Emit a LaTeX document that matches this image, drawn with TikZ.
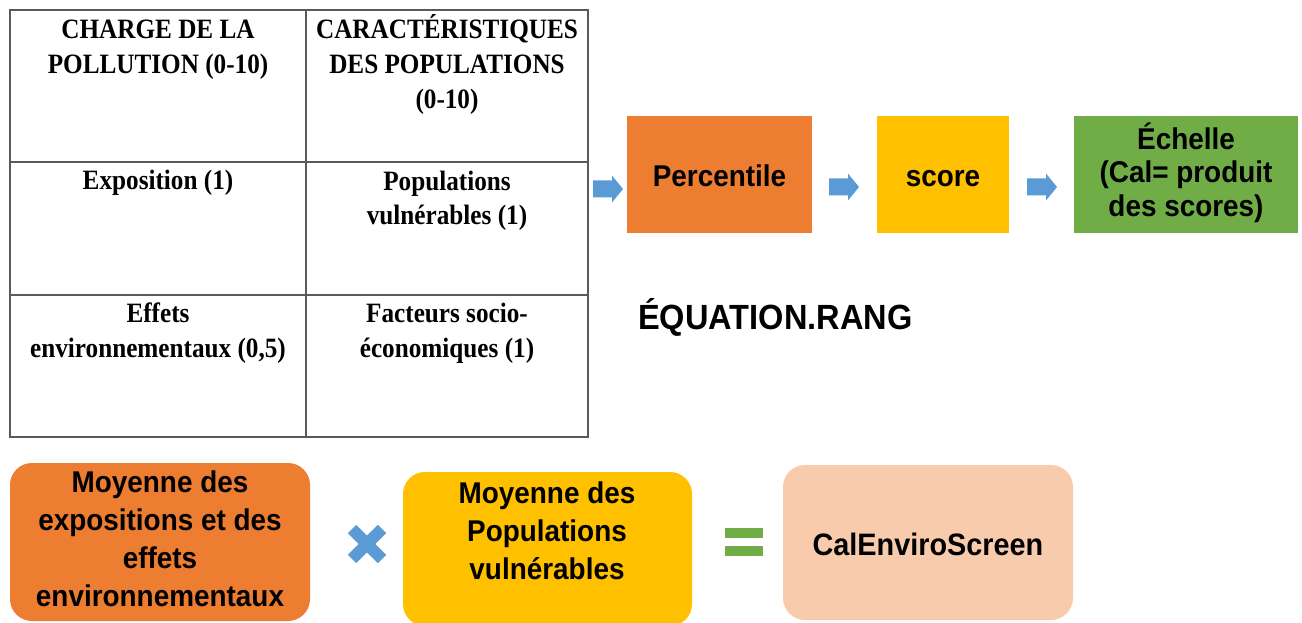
\documentclass[tikz,border=0pt]{standalone}
\usepackage{fontspec}
\usetikzlibrary{calc}
\newfontfamily\arfont{Liberation Sans}[FakeStretch=0.93]
\newfontfamily\tmfont{Liberation Serif}[FakeStretch=0.9]
\definecolor{cOrange}{HTML}{ED7D31}
\definecolor{cYellow}{HTML}{FFC000}
\definecolor{cGreen}{HTML}{70AD47}
\definecolor{cBlue}{HTML}{5B9BD5}
\definecolor{cPeach}{HTML}{F8CBAD}
\definecolor{cGrid}{HTML}{5A5A5A}
\begin{document}
\begin{tikzpicture}[x=1pt,y=-1pt,
  grid/.style={draw=cGrid, line width=1.3pt},
  cell/.style={font=\tmfont\bfseries\fontsize{28}{35}\selectfont, align=center, inner sep=0pt, text=black},
  sq/.style={font=\arfont\bfseries\fontsize{30}{33.5}\selectfont, inner sep=0pt, align=center, text=black},
  rbox/.style={rounded corners=22pt, inner sep=0pt, align=center, text=black},
  btxt/.style={font=\arfont\bfseries\fontsize{30}{38}\selectfont},
  blockarrow/.pic={\fill[cBlue] (-15,-8.5) -- (4,-8.5) -- (4,-13.5) -- (15,0) -- (4,13.5) -- (4,8.5) -- (-15,8.5) -- cycle;}
]
\useasboundingbox (0,0) rectangle (1302,623);

% table
\draw[grid] (10,10) rectangle (588,437);
\draw[grid] (306,10) -- (306,437);
\draw[grid] (10,162) -- (588,162);
\draw[grid] (10,295) -- (588,295);

\node[cell] (h1) at (158,49.5) {\strut CHARGE DE LA\\POLLUTION (0-10)\strut};
\node[cell] (h2) at (447,67) {\strut CARACTÉRISTIQUES\\DES POPULATIONS\\(0-10)\strut};
\node[cell] (r1) at (158,183) {\strut Exposition (1)\strut};
\node[cell] (r2) at (447,200.5) {\strut Populations\\vulnérables (1)\strut};
\node[cell] (r3) at (158,333) {\strut Effets\\environnementaux (0,5)\strut};
\node[cell] (r4) at (447,333) {\strut Facteurs socio-\\économiques (1)\strut};

% top flow
\node[sq, fill=cOrange, minimum width=185pt, minimum height=117pt, text height=23pt, text depth=0pt] (perc) at (719.5,174.5) {Percentile};
\node[sq, fill=cYellow, minimum width=132pt, minimum height=117pt, text height=23pt, text depth=0pt] (score) at (943,174.5) {score};
\node[sq, fill=cGreen, minimum width=224pt, minimum height=117pt] (ech) at (1186,174.5) {\strut Échelle\\(Cal= produit\\des scores)\strut};

\coordinate (a1) at (608,189);
\coordinate (a2) at (844,187);
\coordinate (a3) at (1042,187);
\pic at (a1) {blockarrow};
\pic at (a2) {blockarrow};
\pic at (a3) {blockarrow};

\node[anchor=base west, inner sep=0pt, font=\arfont\bfseries\fontsize{35}{40}\selectfont] (eq) at (638,329) {ÉQUATION.RANG};

% bottom equation
\node[rbox, btxt, fill=cOrange, minimum width=300pt, minimum height=158pt] (moyA) at (160,542) {\strut Moyenne des\\expositions et des\\effets\\environnementaux\strut};
\node[rbox, fill=cYellow, minimum width=289pt, minimum height=154pt] (moyB) at (547.5,549) {};
\node[btxt, align=center, inner sep=0pt] (moyBt) at (547,533.8) {\strut Moyenne des\\Populations\\vulnérables\strut};
\node[rbox, fill=cPeach, minimum width=290pt, minimum height=155pt, font=\arfont\bfseries\fontsize{31}{36}\selectfont, text height=25pt, text depth=0pt] (cal) at (928,542.5) {CalEnviroScreen};

\coordinate (xs) at (367,544);
\draw[cBlue, line width=12pt] ($(xs)+(-15,-15)$) -- ($(xs)+(15,15)$);
\draw[cBlue, line width=12pt] ($(xs)+(-15,15)$) -- ($(xs)+(15,-15)$);

\coordinate (eqs) at (744,542);
\fill[cGreen] ($(eqs)+(-19,-14)$) rectangle ($(eqs)+(19,-4)$);
\fill[cGreen] ($(eqs)+(-19,4)$) rectangle ($(eqs)+(19,14)$);
\end{tikzpicture}
\end{document}
